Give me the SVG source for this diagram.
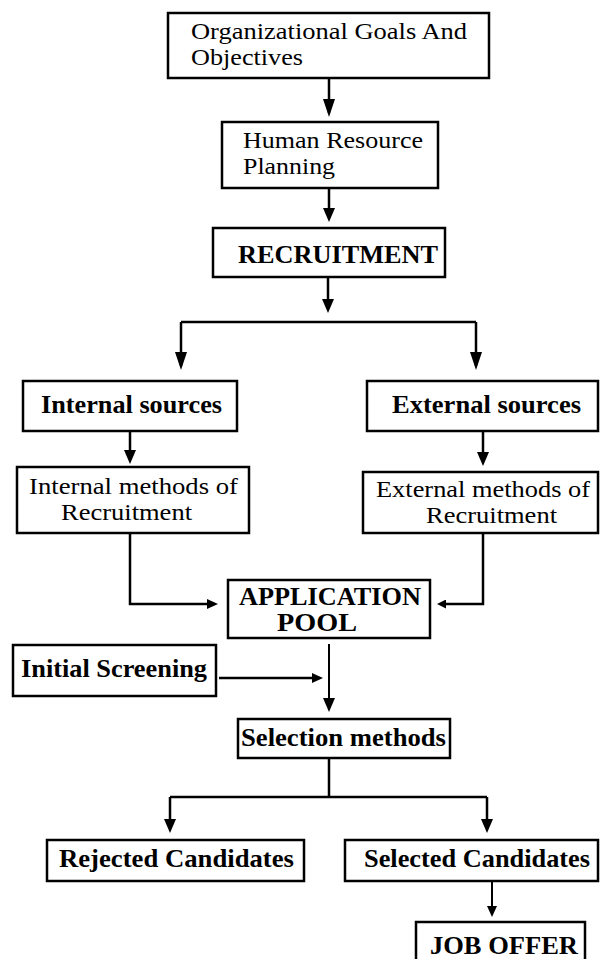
<svg xmlns="http://www.w3.org/2000/svg" width="600" height="959" viewBox="0 0 600 959">
  <style>
    .box { fill: #ffffff; stroke: #000000; stroke-width: 2.5; }
    .reg { font-size: 23px; fill: #000000; }
    .bold { font-size: 25px; font-weight: bold; fill: #000000; }
    .wire { fill: none; stroke: #000000; stroke-width: 2.5; }
  </style>
  <defs>
    <marker id="headL" markerUnits="userSpaceOnUse" markerWidth="18" markerHeight="12" refX="14" refY="6" orient="auto">
      <path d="M0,0 L18,6 L0,12 Z" fill="#000000"/>
    </marker>
    <marker id="headM" markerUnits="userSpaceOnUse" markerWidth="14" markerHeight="12" refX="10" refY="6" orient="auto">
      <path d="M0,0 L14,6 L0,12 Z" fill="#000000"/>
    </marker>
    <marker id="headS" markerUnits="userSpaceOnUse" markerWidth="11" markerHeight="10" refX="7" refY="5" orient="auto">
      <path d="M0,0 L11,5 L0,10 Z" fill="#000000"/>
    </marker>
    <marker id="headXS" markerUnits="userSpaceOnUse" markerWidth="9" markerHeight="9" refX="5" refY="4.5" orient="auto">
      <path d="M0,0 L9,4.5 L0,9 Z" fill="#000000"/>
    </marker>
  </defs>

  <rect width="600" height="959" fill="#ffffff"/>

  <!-- connectors -->
  <g id="connectors">
    <path class="wire" d="M329,78 V113" marker-end="url(#headL)"/>
    <path class="wire" d="M329,188 V218" marker-end="url(#headM)"/>
    <path class="wire" d="M328,277 V309" marker-end="url(#headM)"/>
    <path class="wire" d="M181,322 H476"/>
    <path class="wire" d="M181,322 V366" marker-end="url(#headL)"/>
    <path class="wire" d="M476,322 V366" marker-end="url(#headL)"/>
    <path class="wire" d="M130,431 V460" marker-end="url(#headM)"/>
    <path class="wire" d="M483,431 V462" marker-end="url(#headM)"/>
    <path class="wire" d="M130,533 V604 H214" marker-end="url(#headS)"/>
    <path class="wire" d="M483,533 V604 H441" marker-end="url(#headXS)"/>
    <path class="wire" d="M329,644 V708" marker-end="url(#headM)" style="stroke-width:2"/>
    <path class="wire" d="M219,678 H319" marker-end="url(#headS)"/>
    <path class="wire" d="M329,758 V797"/>
    <path class="wire" d="M170,797 H487"/>
    <path class="wire" d="M170,797 V829" marker-end="url(#headM)"/>
    <path class="wire" d="M487,797 V829" marker-end="url(#headM)"/>
    <path class="wire" d="M492,881 V913" marker-end="url(#headS)" style="stroke-width:2"/>
  </g>

  <!-- nodes -->
  <g id="nodes" font-family="'Liberation Serif', 'Times New Roman', serif">
  <g id="goals">
    <rect class="box" x="168" y="13" width="321" height="65"/>
    <text class="reg" x="191" y="39" textLength="276" lengthAdjust="spacingAndGlyphs">Organizational Goals And</text>
    <text class="reg" x="191" y="65" textLength="112" lengthAdjust="spacingAndGlyphs">Objectives</text>
  </g>

  <g id="hr-planning">
    <rect class="box" x="222" y="122" width="216" height="66"/>
    <text class="reg" x="243" y="148" textLength="180" lengthAdjust="spacingAndGlyphs">Human Resource</text>
    <text class="reg" x="243" y="174" textLength="92" lengthAdjust="spacingAndGlyphs">Planning</text>
  </g>

  <g id="recruitment">
    <rect class="box" x="213" y="228" width="232" height="49"/>
    <text class="bold" x="238" y="263" textLength="200" lengthAdjust="spacingAndGlyphs">RECRUITMENT</text>
  </g>

  <g id="internal-sources">
    <rect class="box" x="23" y="381" width="214" height="50"/>
    <text class="bold" x="41" y="413" textLength="181" lengthAdjust="spacingAndGlyphs">Internal sources</text>
  </g>

  <g id="external-sources">
    <rect class="box" x="367" y="381" width="231" height="50"/>
    <text class="bold" x="392" y="413" textLength="189" lengthAdjust="spacingAndGlyphs">External sources</text>
  </g>

  <g id="internal-methods">
    <rect class="box" x="17" y="467" width="232" height="66"/>
    <text class="reg" x="29" y="494" textLength="209" lengthAdjust="spacingAndGlyphs">Internal methods of</text>
    <text class="reg" x="61" y="520" textLength="131" lengthAdjust="spacingAndGlyphs">Recruitment</text>
  </g>

  <g id="external-methods">
    <rect class="box" x="363" y="472" width="235" height="61"/>
    <text class="reg" x="376" y="497" textLength="214" lengthAdjust="spacingAndGlyphs">External methods of</text>
    <text class="reg" x="426" y="523" textLength="131" lengthAdjust="spacingAndGlyphs">Recruitment</text>
  </g>

  <g id="application-pool">
    <rect class="box" x="228" y="580" width="202" height="58"/>
    <text class="bold" x="239" y="605" textLength="182" lengthAdjust="spacingAndGlyphs">APPLICATION</text>
    <text class="bold" x="277" y="631" textLength="80" lengthAdjust="spacingAndGlyphs">POOL</text>
  </g>

  <g id="initial-screening">
    <rect class="box" x="13" y="645" width="203" height="51"/>
    <text class="bold" x="21" y="677" textLength="186" lengthAdjust="spacingAndGlyphs">Initial Screening</text>
  </g>

  <g id="selection-methods">
    <rect class="box" x="238" y="719" width="212" height="39"/>
    <text class="bold" x="241" y="746" textLength="205" lengthAdjust="spacingAndGlyphs">Selection methods</text>
  </g>

  <g id="rejected">
    <rect class="box" x="47" y="840" width="257" height="41"/>
    <text class="bold" x="59" y="867" textLength="235" lengthAdjust="spacingAndGlyphs">Rejected Candidates</text>
  </g>

  <g id="selected">
    <rect class="box" x="345" y="840" width="253" height="41"/>
    <text class="bold" x="364" y="867" textLength="226" lengthAdjust="spacingAndGlyphs">Selected Candidates</text>
  </g>

  <g id="job-offer">
    <rect class="box" x="416" y="922" width="169" height="42"/>
    <text class="bold" x="430" y="954" textLength="148" lengthAdjust="spacingAndGlyphs">JOB OFFER</text>
  </g>
  </g>
</svg>
